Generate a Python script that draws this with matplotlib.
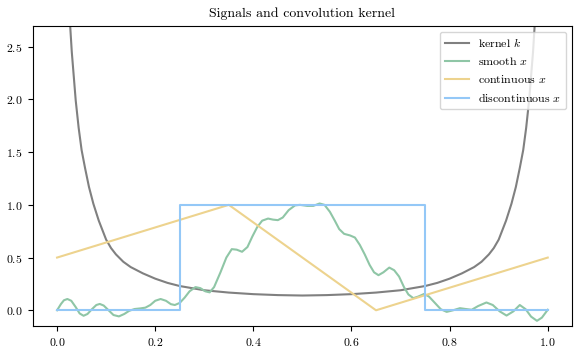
import matplotlib
matplotlib.use("Agg")
import matplotlib.pyplot as plt

plt.rcParams["font.family"] = "serif"
plt.rcParams["font.serif"] = ["cmr10"]
plt.rcParams["mathtext.fontset"] = "cm"
plt.rcParams["axes.formatter.use_mathtext"] = True

# kernel k
kernel_x = [0.026, 0.030, 0.034, 0.038, 0.044, 0.050, 0.057, 0.065, 0.074, 0.085,
            0.100, 0.110, 0.120, 0.135, 0.150, 0.175, 0.200, 0.225, 0.250, 0.300,
            0.350, 0.400, 0.450, 0.500, 0.550, 0.600, 0.650, 0.700, 0.750, 0.775,
            0.800, 0.825, 0.850, 0.865, 0.880, 0.890, 0.900, 0.915, 0.926, 0.935,
            0.943, 0.950, 0.956, 0.962, 0.966, 0.970, 0.974]
kernel_y = [2.75, 2.45, 2.22, 1.99, 1.73, 1.52, 1.35, 1.17, 1.01, 0.85,
            0.67, 0.59, 0.53, 0.46, 0.41, 0.35, 0.30, 0.26, 0.23, 0.19,
            0.168, 0.153, 0.144, 0.140, 0.144, 0.153, 0.168, 0.19, 0.23, 0.26,
            0.30, 0.35, 0.41, 0.46, 0.53, 0.59, 0.67, 0.85, 1.01, 1.17,
            1.35, 1.52, 1.73, 1.99, 2.22, 2.45, 2.75]

# smooth x
smooth_x = [0.000, 0.008, 0.014, 0.021, 0.029, 0.038, 0.046, 0.054, 0.062, 0.071,
            0.080, 0.087, 0.095, 0.105, 0.115, 0.126, 0.137, 0.147, 0.158, 0.170,
            0.180, 0.190, 0.200, 0.211, 0.222, 0.232, 0.240, 0.250, 0.260, 0.270,
            0.282, 0.292, 0.302, 0.311, 0.320, 0.333, 0.345, 0.356, 0.366, 0.377,
            0.388, 0.398, 0.408, 0.418, 0.430, 0.440, 0.450, 0.460, 0.472, 0.485,
            0.495, 0.510, 0.522, 0.535, 0.545, 0.556, 0.566, 0.575, 0.585, 0.597,
            0.607, 0.617, 0.627, 0.637, 0.646, 0.655, 0.665, 0.677, 0.687, 0.697,
            0.707, 0.716, 0.726, 0.736, 0.748, 0.758, 0.770, 0.782, 0.794, 0.807,
            0.821, 0.833, 0.845, 0.858, 0.875, 0.888, 0.902, 0.916, 0.930, 0.943,
            0.955, 0.966, 0.978, 0.988, 1.000]
smooth_y = [0.000, 0.060, 0.095, 0.107, 0.090, 0.030, -0.030, -0.052, -0.035, 0.010,
            0.050, 0.060, 0.045, 0.000, -0.045, -0.058, -0.035, -0.005, 0.012, 0.018,
            0.025, 0.050, 0.090, 0.107, 0.090, 0.058, 0.050, 0.070, 0.120, 0.180,
            0.220, 0.210, 0.180, 0.170, 0.220, 0.360, 0.500, 0.580, 0.575, 0.555,
            0.600, 0.700, 0.790, 0.850, 0.870, 0.860, 0.855, 0.880, 0.950, 0.995,
            1.000, 0.990, 0.990, 1.013, 1.000, 0.934, 0.850, 0.770, 0.725, 0.710,
            0.690, 0.620, 0.530, 0.430, 0.360, 0.333, 0.360, 0.405, 0.380, 0.320,
            0.220, 0.150, 0.115, 0.130, 0.155, 0.130, 0.070, 0.010, -0.015, 0.000,
            0.020, 0.012, 0.005, 0.040, 0.074, 0.050, -0.010, -0.050, -0.010, 0.050,
            0.010, -0.060, -0.100, -0.070, 0.005]

# continuous x
cont_x = [0.0, 0.35, 0.65, 1.0]
cont_y = [0.5, 1.0, 0.0, 0.5]

# discontinuous x
disc_x = [0.0, 0.25, 0.25, 0.75, 0.75, 1.0]
disc_y = [0.0, 0.0, 1.0, 1.0, 0.0, 0.0]

fig = plt.figure(figsize=(5.81, 3.56), dpi=100)
ax = fig.add_axes([0.056, 0.084, 0.929, 0.844])

ax.plot(kernel_x, kernel_y, color="#808080", lw=1.5, label="kernel $k$")
ax.plot(smooth_x, smooth_y, color="#8fc6a6", lw=1.5, label="smooth $x$")
ax.plot(cont_x, cont_y, color="#edd38e", lw=1.5, label="continuous $x$")
ax.plot(disc_x, disc_y, color="#94c8f7", lw=1.5, label="discontinuous $x$")

ax.set_xlim(-0.05, 1.05)
ax.set_ylim(-0.15, 2.7)
ax.set_title("Signals and convolution kernel", fontsize=10)
ax.tick_params(labelsize=8.5)
ax.legend(loc="upper right", fontsize=8.6)

fig.savefig("out.png", dpi=100)
